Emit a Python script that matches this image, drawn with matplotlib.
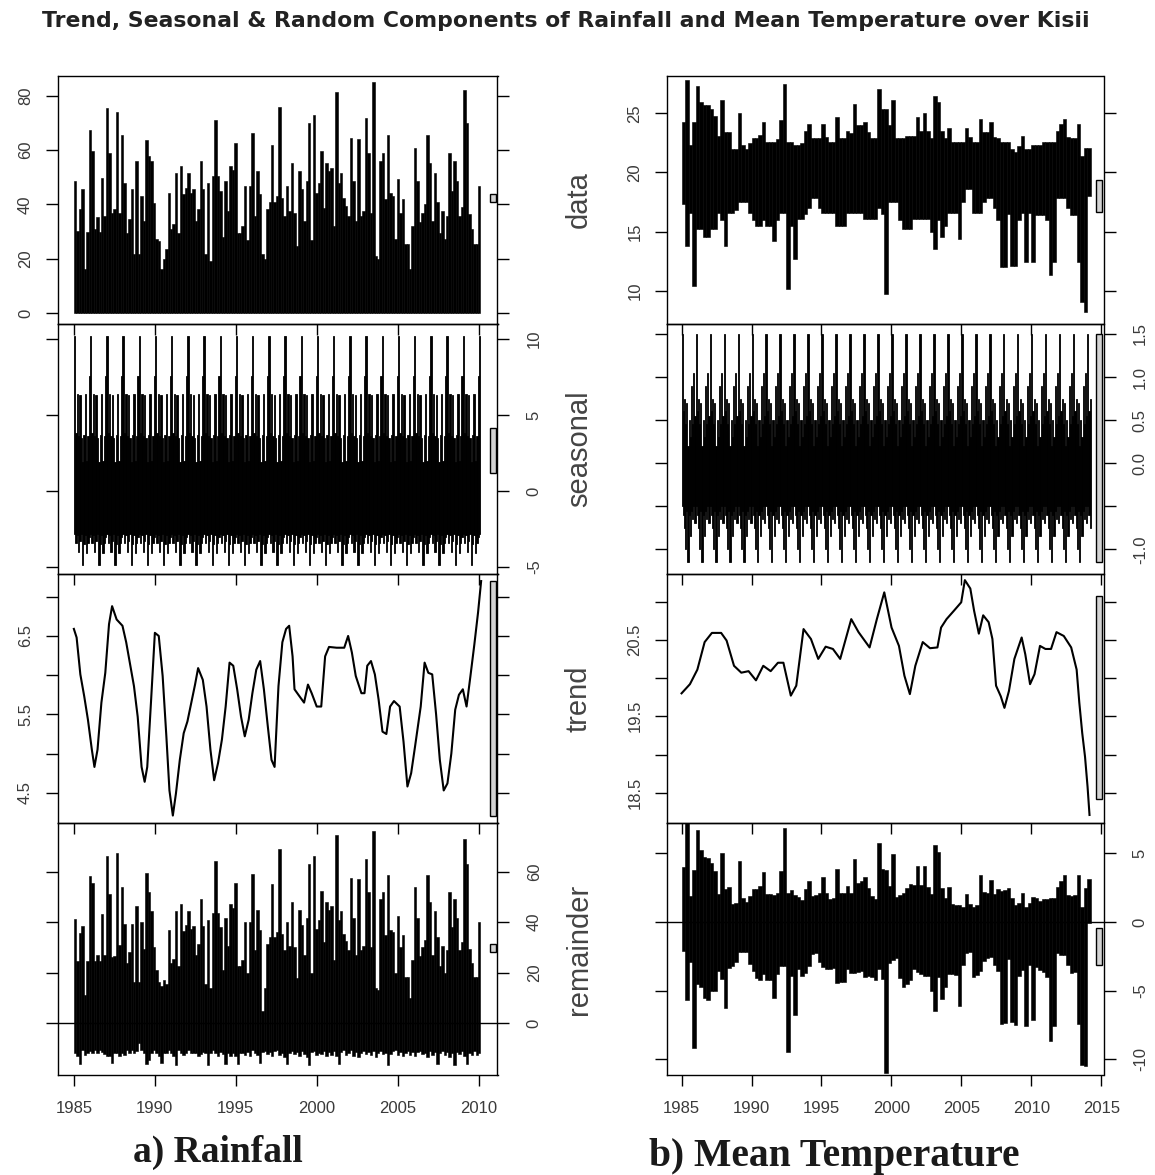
import numpy as np
import matplotlib
matplotlib.use("Agg")
import matplotlib.pyplot as plt
from matplotlib.patches import Rectangle
import matplotlib.transforms as mtrans

plt.rcParams["font.family"] = ["Liberation Sans", "DejaVu Sans"]

W, H, DPI = 1155, 1175, 100

# ---------------- a) Rainfall ----------------
rain_span = (1985.0, 2010.1)
rain_data = [48.6, 30.2, 38.5, 45.8, 16.2, 30.0, 67.4, 59.7, 31.0, 35.5,
             30.0, 49.6, 35.8, 75.6, 58.8, 37.0, 38.5, 73.8, 37.0, 65.4,
             47.8, 29.6, 34.6, 45.8, 21.7, 56.0, 21.7, 43.1, 33.9, 63.6,
             57.8, 56.0, 40.4, 27.4, 26.5, 16.2, 19.9, 23.5, 44.1, 31.0,
             32.7, 51.5, 29.6, 54.2, 43.8, 46.2, 51.5, 44.3, 45.8, 33.9,
             38.5, 56.0, 45.8, 21.7, 47.8, 19.2, 50.5, 71.0, 50.5, 45.0,
             27.9, 48.6, 37.6, 54.2, 52.7, 62.7, 29.6, 29.6, 32.1, 46.8,
             27.0, 46.8, 66.2, 35.8, 52.2, 43.8, 21.7, 19.9, 38.5, 40.9,
             61.8, 41.0,
             43.1, 75.8, 42.5, 35.8, 46.8, 37.6, 55.1, 37.0, 24.7, 52.2,
             45.8, 33.9, 48.6, 70.1, 27.0, 72.9, 44.3, 47.8, 59.7, 38.8,
             55.1, 52.2, 53.5, 32.1, 81.4, 48.0, 51.5, 42.5, 39.4, 35.8,
             64.6, 48.6, 33.9, 64.0, 35.8, 37.6, 71.9, 58.8, 37.0, 85.0,
             21.1, 19.9, 56.0, 58.8, 42.1, 65.4, 44.1, 43.1, 27.2, 49.5,
             37.0, 42.1, 25.4, 25.4, 16.2, 32.1, 60.9, 48.6, 33.4, 37.0,
             40.1, 65.4, 55.1, 33.9, 51.5, 41.0, 29.6, 37.6, 27.2, 35.9,
             58.8, 45.0, 56.0, 48.6, 35.8, 39.0, 82.1, 70.1, 36.4, 31.1,
             25.4, 25.4, 46.8]

# one year of the seasonal component (monthly highs / lows)
rain_seas_hi = [10.2, 3.8, 6.4, 3.6, 6.3, 3.5, 1.9, 3.7, 6.4, 2.0, 3.6, 7.6]
rain_seas_lo = [-2.8, -3.4, -2.9, -4.0, -3.3, -2.8, -4.9, -3.5, -2.9, -4.1, -3.4, -3.0]

rain_trend_yr = [1985.00, 1985.17, 1985.40, 1985.64, 1985.87, 1986.11, 1986.27, 1986.46, 1986.70, 1986.94,
                 1987.17, 1987.36, 1987.64, 1988.00, 1988.23, 1988.47, 1988.71, 1988.94, 1989.18, 1989.37,
                 1989.53, 1989.77, 1990.00, 1990.24, 1990.48, 1990.71, 1990.90, 1991.11, 1991.30, 1991.54,
                 1991.78, 1992.01, 1992.25, 1992.48, 1992.67, 1992.96, 1993.19, 1993.43, 1993.66, 1993.90,
                 1994.14, 1994.37, 1994.61, 1994.84, 1995.08, 1995.32, 1995.55, 1995.79, 1996.02, 1996.26,
                 1996.50, 1996.73, 1996.97, 1997.20, 1997.39, 1997.63, 1997.87, 1998.10, 1998.29, 1998.50,
                 1998.62, 1998.86, 1999.21, 1999.45, 1999.68, 1999.99, 2000.27, 2000.51, 2000.75, 2001.22,
                 2001.69, 2001.93, 2002.16, 2002.40, 2002.75, 2002.94, 2003.11, 2003.34, 2003.58, 2003.81,
                 2004.05, 2004.29, 2004.52, 2004.76, 2005.11, 2005.35, 2005.59, 2005.82, 2006.06, 2006.41,
                 2006.65, 2006.88, 2007.12, 2007.36, 2007.59, 2007.83, 2008.06, 2008.30, 2008.54, 2008.77,
                 2009.01, 2009.24, 2009.48, 2009.72, 2009.95, 2010.14]
rain_trend = [6.59, 6.48, 6.01, 5.73, 5.43, 5.05, 4.83, 5.05, 5.65, 6.03,
              6.65, 6.88, 6.71, 6.63, 6.42, 6.14, 5.86, 5.47, 4.83, 4.64,
              4.83, 5.69, 6.54, 6.50, 5.99, 5.22, 4.53, 4.21, 4.49, 4.92,
              5.26, 5.41, 5.65, 5.88, 6.09, 5.94, 5.60, 5.05, 4.66, 4.88,
              5.18, 5.60, 6.16, 6.12, 5.82, 5.47, 5.22, 5.43, 5.77, 6.07,
              6.18, 5.82, 5.35, 4.92, 4.83, 5.86, 6.42, 6.59, 6.63, 6.24,
              5.82, 5.75, 5.65, 5.88, 5.77, 5.60, 5.60, 6.24, 6.36, 6.35,
              6.35, 6.50, 6.29, 5.99, 5.77, 5.77, 6.12, 6.18, 6.01, 5.69,
              5.28, 5.25, 5.60, 5.67, 5.60, 5.15, 4.58, 4.75, 5.09, 5.60,
              6.16, 6.03, 6.01, 5.50, 4.92, 4.53, 4.62, 5.00, 5.56, 5.75,
              5.82, 5.60, 5.99, 6.39, 6.80, 7.20]

rain_rem_hi = [41.2, 24.5, 35.6, 38.3, 11.3, 24.5, 58.2, 55.3, 24.7, 27.1,
               24.5, 43.2, 27.1, 66.3, 51.1, 26.4, 26.7, 67.2, 31.0, 54.0,
               39.3, 23.8, 28.4, 39.3, 16.2, 46.2, 16.2, 40.1, 29.3, 59.3,
               52.1, 44.6, 30.1, 21.1, 16.2, 14.8, 17.0, 15.5, 37.0, 24.0,
               25.5, 44.5, 22.5, 47.0, 36.5, 39.0, 44.5, 37.5, 38.5, 27.0,
               31.5, 49.0, 38.5, 15.5, 41.0, 14.0, 43.5, 64.0, 43.5, 38.0,
               21.0, 41.5, 30.5, 47.0, 45.5, 55.5, 22.5, 22.5, 25.0, 40.0,
               20.0, 40.0, 59.0, 29.0, 45.0, 37.0, 5.0, 14.0, 31.5, 34.0,
               55.0, 34.0,
               36.0, 69.0, 35.5, 29.0, 40.0, 30.5, 48.0, 30.0, 18.0, 45.0,
               39.0, 27.0, 41.5, 63.0, 20.0, 66.0, 37.5, 41.0, 52.5, 32.0,
               48.0, 45.0, 46.5, 25.0, 74.5, 41.0, 44.5, 35.5, 32.5, 29.0,
               57.5, 41.5, 27.0, 57.0, 29.0, 30.5, 65.0, 52.0, 30.0, 76.0,
               14.0, 13.0, 49.0, 52.0, 35.0, 58.5, 37.0, 36.0, 20.0, 42.5,
               30.0, 35.0, 18.5, 18.5, 10.0, 25.0, 54.0, 41.5, 26.5, 30.0,
               33.0, 58.5, 48.0, 27.0, 44.5, 34.0, 22.5, 30.5, 20.0, 29.0,
               52.0, 38.0, 49.0, 41.5, 29.0, 32.0, 73.0, 63.0, 29.5, 24.0,
               18.5, 18.5, 40.0]
rain_rem_lo = [-11.7, -13.0, -16.0, -10.4, -12.4, -11.7, -10.9, -11.7, -10.4, -11.7,
               -10.4, -11.2, -12.0, -13.0, -13.0, -15.8, -11.7, -11.7, -13.0, -11.7,
               -12.4, -10.4, -11.7, -10.4, -11.7, -10.9, -7.8, -10.4, -11.7, -16.2,
               -14.3, -11.7, -10.4, -11.7, -13.0, -15.7, -11.7, -11.7, -10.4, -11.7,
               -13.0, -16.4, -10.4, -11.7, -12.4, -11.7, -10.4, -11.7, -11.7, -11.7,
               -13.0, -12.0, -11.2, -11.7, -16.3, -11.7, -10.4, -11.7, -13.0, -11.2,
               -12.2, -15.9, -11.7, -13.0, -11.7, -13.0, -16.0, -11.7, -11.7, -12.4,
               -11.2, -12.8, -10.6, -11.9, -12.6, -15.5, -11.4, -10.8, -12.2, -11.5,
               -12.9, -11.1, -10.7, -12.3, -11.8, -13.2, -16.1, -11.6, -10.9, -12.0,
               -11.3, -12.7, -11.0, -12.2, -13.4, -16.3, -11.2, -10.8, -12.5, -11.6,
               -12.1, -10.9, -13.0, -11.4, -12.3, -11.1, -12.8, -15.9, -11.5, -10.7,
               -12.4, -11.9, -10.6, -12.7, -11.3, -13.1, -11.8, -10.9, -12.2, -11.4,
               -12.6, -11.0, -13.3, -11.7, -10.8, -12.1, -11.6, -16.4, -12.0, -11.1,
               -10.7, -12.5, -11.3, -13.0, -11.8, -10.9, -12.4, -11.5, -12.9, -11.2,
               -10.8, -12.2, -11.7, -13.2, -11.0, -12.6, -11.4, -16.2, -11.9, -10.9,
               -12.3, -11.5, -13.1, -11.8, -16.5, -11.2, -12.0, -10.8, -12.7, -16.0,
               -11.6, -12.3, -11.0, -12.5, -11.9]

# ---------------- b) Mean Temperature (quarterly highs / lows) ----------------
temp_span = (1985.0, 2014.25)
temp_hi = [24.3, 27.8, 22.3, 24.3, 27.3, 26.0, 25.7, 25.7, 25.4, 24.8,
           23.1, 26.1, 23.4, 23.4, 22.0, 22.0, 25.0, 22.3, 22.0, 22.5,
           22.9, 22.9, 23.2, 24.3, 22.6, 22.6, 22.6, 22.8, 24.4, 27.5,
           22.6, 22.6, 22.3, 22.3, 22.5, 23.5, 24.1, 22.9, 22.9, 22.9,
           24.1, 23.0, 22.6, 22.6, 24.7, 22.9, 22.9, 23.5, 23.3, 25.8,
           24.0, 24.0, 24.3, 23.4, 22.9, 22.9, 27.1, 25.4, 25.4, 24.0,
           26.1, 22.9, 22.9, 22.9, 23.1, 23.1, 23.1, 24.7, 23.5, 25.0,
           23.5, 22.9, 26.5, 26.0, 23.5, 22.9, 23.8, 22.6, 22.6, 22.6,
           22.6, 23.8, 23.0, 22.6, 22.6, 24.5, 23.4, 23.4, 24.3, 23.0,
           22.9, 22.6, 22.6, 22.6, 22.0, 21.7, 22.2, 23.1, 22.0, 22.0,
           22.3, 22.3, 22.3, 22.6, 22.6, 22.6, 22.6, 23.5, 24.1, 24.5,
           23.0, 22.9, 22.9, 24.1, 21.4, 22.1, 22.1]
temp_lo = [17.3, 13.8, 16.6, 10.4, 15.2, 15.2, 14.5, 14.5, 15.2, 15.2,
           16.6, 16.0, 13.8, 16.6, 16.6, 16.8, 17.5, 17.5, 17.5, 16.6,
           16.0, 15.5, 15.5, 16.0, 15.5, 15.5, 14.2, 16.0, 16.6, 16.6,
           10.1, 15.5, 12.7, 16.1, 16.1, 16.5, 17.0, 17.8, 17.8, 17.0,
           16.6, 16.6, 16.6, 16.6, 15.5, 15.5, 15.5, 16.6, 16.6, 16.6,
           16.6, 16.6, 16.1, 16.1, 16.1, 16.1, 17.0, 16.5, 9.7, 17.5,
           17.5, 17.5, 16.0, 15.2, 15.2, 15.2, 16.1, 16.1, 16.1, 16.1,
           16.1, 15.0, 13.5, 16.0, 14.5, 15.5, 16.6, 16.6, 16.6, 14.4,
           17.5, 18.6, 18.6, 16.6, 16.6, 16.6, 17.5, 17.8, 17.8, 17.0,
           16.0, 12.0, 12.0, 16.5, 12.1, 12.1, 16.0, 16.6, 12.4, 16.6,
           12.4, 16.4, 16.4, 16.4, 16.0, 11.3, 12.4, 17.8, 17.8, 17.8,
           17.0, 16.4, 16.4, 12.4, 9.0, 8.2, 18.0]

temp_seas_hi = [1.5, 0.6, 0.75, 0.45, 0.7, 0.2, 0.5, 0.3, 0.9, 0.45, 1.05, 0.55]
temp_seas_lo = [-0.5, -0.6, -0.75, -1.0, -0.55, -1.15, -0.6, -0.85, -0.55, -0.65, -0.5, -0.7]

temp_trend_yr = [1985.00, 1985.60, 1986.13, 1986.65, 1987.17, 1987.83, 1988.22, 1988.75, 1989.27, 1989.79,
                 1990.32, 1990.84, 1991.37, 1991.89, 1992.28, 1992.81, 1993.20, 1993.72, 1994.25, 1994.77,
                 1995.30, 1995.82, 1996.34, 1997.13, 1997.65, 1998.44, 1998.96, 1999.49, 2000.01, 2000.54,
                 2000.93, 2001.32, 2001.71, 2002.24, 2002.76, 2003.29, 2003.55, 2003.94, 2004.47, 2004.99,
                 2005.25, 2005.64, 2005.91, 2006.25, 2006.56, 2006.95, 2007.22, 2007.48, 2007.82, 2008.08,
                 2008.40, 2008.79, 2009.31, 2009.57, 2009.91, 2010.23, 2010.62, 2011.01, 2011.41, 2011.80,
                 2012.32, 2012.85, 2013.24, 2013.43, 2013.64, 2013.84, 2014.02, 2014.16]
temp_trend = [19.80, 19.92, 20.11, 20.47, 20.59, 20.59, 20.49, 20.16, 20.07, 20.09,
              19.97, 20.16, 20.09, 20.20, 20.20, 19.77, 19.90, 20.64, 20.51, 20.25,
              20.41, 20.38, 20.25, 20.77, 20.60, 20.40, 20.77, 21.12, 20.66, 20.42,
              20.03, 19.79, 20.16, 20.47, 20.39, 20.40, 20.66, 20.77, 20.88, 20.99,
              21.28, 21.17, 20.88, 20.58, 20.82, 20.73, 20.51, 19.90, 19.76, 19.61,
              19.83, 20.25, 20.53, 20.31, 19.92, 20.05, 20.42, 20.38, 20.38, 20.60,
              20.55, 20.40, 20.11, 19.68, 19.28, 18.97, 18.58, 18.21]

temp_rem_hi = [4.0, 7.4, 1.9, 3.8, 6.7, 5.2, 4.75, 4.65, 4.3, 3.7,
               2.0, 5.05, 2.4, 2.55, 1.3, 1.35, 4.4, 1.73, 1.42, 1.91,
               2.4, 2.43, 2.6, 3.64, 2.0, 2.0, 1.95, 2.1, 3.7, 6.8,
               2.1, 2.3, 1.95, 1.85, 1.6, 2.38, 3.0, 1.88, 1.95, 2.1,
               3.3, 2.1, 1.7, 1.72, 3.85, 2.1, 2.1, 2.6, 2.1, 4.55,
               2.85, 2.95, 3.3, 2.5, 1.9, 1.65, 5.75, 3.85, 3.8, 2.6,
               4.94, 1.85, 1.95, 2.1, 2.5, 2.75, 2.7, 4.05, 2.7, 4.05,
               2.55, 2.0, 5.6, 5.1, 2.5, 1.75, 2.53, 1.3, 1.25, 1.2,
               1.1, 2.05, 1.3, 1.1, 1.25, 3.4, 2.15, 2.1, 3.05, 2.0,
               2.4, 2.25, 2.35, 2.48, 1.75, 1.2, 1.4, 2.1, 1.1, 1.4,
               1.85, 1.75, 1.5, 1.68, 1.7, 1.72, 1.72, 2.55, 3.0, 3.42,
               1.95, 1.9, 1.98, 3.4, 1.1, 2.5, 3.1]
temp_rem_lo = [-2.1, -5.65, -2.9, -9.2, -4.5, -4.7, -5.55, -5.65, -5.0, -5.0,
               -3.6, -4.15, -6.3, -3.35, -3.2, -2.95, -2.2, -2.17, -2.18, -3.09,
               -3.6, -4.07, -4.2, -3.76, -4.2, -4.2, -5.55, -3.8, -3.2, -3.2,
               -9.5, -3.9, -6.75, -3.45, -3.9, -3.72, -3.2, -2.32, -2.25, -2.9,
               -3.3, -3.4, -3.4, -3.38, -4.45, -4.4, -4.4, -3.4, -3.7, -3.75,
               -3.65, -3.55, -4.0, -3.9, -4.0, -4.25, -3.45, -4.15, -11.0, -3.0,
               -2.76, -2.65, -4.05, -4.7, -4.5, -4.25, -3.4, -3.65, -3.8, -3.95,
               -3.95, -5.0, -6.5, -4.0, -5.6, -4.75, -3.77, -3.8, -3.85, -6.1,
               -3.1, -2.25, -2.2, -4.0, -3.85, -3.6, -2.85, -2.6, -2.55, -3.1,
               -3.6, -7.45, -7.35, -2.72, -7.25, -7.5, -3.9, -3.5, -7.6, -3.1,
               -7.15, -3.25, -3.5, -3.62, -4.0, -8.68, -7.58, -2.25, -2.4, -2.38,
               -3.15, -3.7, -3.62, -7.4, -10.4, -10.5, -0.1]


def dense(ax, span, lo, hi, lw=0.4):
    lo = np.asarray(lo, float)
    hi = np.asarray(hi, float)
    edges = np.linspace(span[0], span[1], len(hi) + 1)
    ax.bar(edges[:-1], hi - lo, bottom=lo, width=np.diff(edges), align="edge",
           color="black", edgecolor="black", linewidth=lw)
    return lo.min(), hi.max()


def seasonal(ax, start, years, cyc_hi, cyc_lo):
    n = int(round(years * 12))
    reps = n // 12 + 1
    hi = np.tile(cyc_hi, reps)[:n]
    lo = np.tile(cyc_lo, reps)[:n]
    return dense(ax, (start, start + n / 12.0), lo, hi, lw=0.6)


def style(ax, xlim, ylim, yticks, ylabels, side, xticks, bottom):
    ax.set_facecolor("none")
    ax.set_xlim(xlim)
    ax.set_ylim(ylim)
    for s in ax.spines.values():
        s.set_linewidth(1.0)
    ax.set_yticks(yticks)
    ax.set_yticklabels(ylabels, rotation=90, va="center")
    ax.tick_params(axis="y", direction="out", length=8.6, width=1.0,
                   left=True, right=True,
                   labelleft=(side == "left"), labelright=(side == "right"),
                   labelsize=12, labelcolor="#3a3a3a",
                   pad=9 if side == "left" else 12.5)
    ax.set_xticks(xticks)
    ax.set_xticklabels([str(x) for x in xticks])
    ax.tick_params(axis="x", direction="out", length=8, width=1.0,
                   labelbottom=bottom, labelsize=12, labelcolor="#3a3a3a", pad=11)


def range_bar(ax, lo, hi, h):
    mid = (lo + hi) / 2.0
    tr = mtrans.blended_transform_factory(ax.transAxes, ax.transData)
    ax.add_patch(Rectangle((0.983, mid - h / 2.0), 0.013, h, transform=tr,
                           facecolor="#d3d3d3", edgecolor="black", linewidth=1.0,
                           clip_on=False, zorder=5))


fig = plt.figure(figsize=(W / DPI, H / DPI), dpi=DPI)
fig.patch.set_facecolor("white")

edges_px = [76, 324, 574, 823, 1075]


def panel_axes(x0, x1, i):
    top, bot = edges_px[i], edges_px[i + 1]
    return fig.add_axes([x0 / W, 1 - bot / H, (x1 - x0) / W, (bot - top) / H])


# ---- left block: rainfall ----
rx = (1983.99, 2011.15)
rxt = [1985, 1990, 1995, 2000, 2005, 2010]
axs_r = [panel_axes(57.5, 497.5, i) for i in range(4)]

rng_r = []
rng_r.append(dense(axs_r[0], rain_span, np.zeros(len(rain_data)), rain_data))
rng_r.append(seasonal(axs_r[1], 1985.0, 25.1, rain_seas_hi, rain_seas_lo))
axs_r[2].plot(rain_trend_yr, rain_trend, color="black", lw=1.5)
rng_r.append((min(rain_trend), max(rain_trend)))
axs_r[3].axhline(0, color="black", lw=1.0)
rng_r.append(dense(axs_r[3], rain_span, rain_rem_lo, rain_rem_hi))

style(axs_r[0], rx, (-3.9, 87.2), [0, 20, 40, 60, 80], ["0", "20", "40", "60", "80"], "left", rxt, False)
style(axs_r[1], rx, (-5.46, 10.99), [-5, 0, 5, 10], ["-5", "0", "5", "10"], "right", rxt, False)
style(axs_r[2], rx, (4.115, 7.29), [4.5, 5.0, 5.5, 6.0, 6.5, 7.0],
      ["4.5", "", "5.5", "", "6.5", ""], "left", rxt, False)
style(axs_r[3], rx, (-20.4, 79.2), [0, 20, 40, 60], ["0", "20", "40", "60"], "right", rxt, True)

h_r = min(b - a for a, b in rng_r)
for ax, (a, b) in zip(axs_r, rng_r):
    range_bar(ax, a, b, h_r)

# ---- right block: mean temperature ----
tx = (1983.96, 2015.16)
txt = [1985, 1990, 1995, 2000, 2005, 2010, 2015]
axs_t = [panel_axes(667, 1103.5, i) for i in range(4)]

rng_t = []
rng_t.append(dense(axs_t[0], temp_span, temp_lo, temp_hi))
rng_t.append(seasonal(axs_t[1], 1985.0, 29.25, temp_seas_hi, temp_seas_lo))
axs_t[2].plot(temp_trend_yr, temp_trend, color="black", lw=1.5)
rng_t.append((min(temp_trend), max(temp_trend)))
axs_t[3].axhline(0, color="black", lw=1.0)
rng_t.append(dense(axs_t[3], temp_span, temp_rem_lo, temp_rem_hi))

style(axs_t[0], tx, (7.18, 28.16), [10, 15, 20, 25], ["10", "15", "20", "25"], "left", txt, False)
style(axs_t[1], tx, (-1.287, 1.616), [-1.0, -0.5, 0.0, 0.5, 1.0, 1.5],
      ["-1.0", "", "0.0", "0.5", "1.0", "1.5"], "right", txt, False)
style(axs_t[2], tx, (18.105, 21.36), [18.5, 19.0, 19.5, 20.0, 20.5, 21.0],
      ["18.5", "", "19.5", "", "20.5", ""], "left", txt, False)
style(axs_t[3], tx, (-11.14, 7.2), [-10, -5, 0, 5], ["-10", "-5", "0", "5"], "right", txt, True)

h_t = min(b - a for a, b in rng_t)
for ax, (a, b) in zip(axs_t, rng_t):
    range_bar(ax, a, b, h_t)

# ---- panel names (shared, between the two blocks) ----
for name, i in zip(["data", "seasonal", "trend", "remainder"], range(4)):
    yc = (edges_px[i] + edges_px[i + 1]) / 2.0
    fig.text(579 / W, 1 - yc / H, name, rotation=90, ha="center", va="center",
             fontsize=21, color="#444444")

# ---- captions ----
fig.text(218 / W, 1 - 1162 / H, "a) Rainfall", ha="center", va="baseline",
         family="Liberation Serif", weight="bold", fontsize=27, color="#1a1a1a")
fig.text(834 / W, 1 - 1166 / H, "b) Mean Temperature", ha="center", va="baseline",
         family="Liberation Serif", weight="bold", fontsize=28.5, color="#1a1a1a")

title = fig.text(566 / W, 1 - 21 / H,
                 "Trend, Seasonal & Random Components of Rainfall and Mean Temperature over Kisii",
                 ha="center", va="center", family="DejaVu Sans", weight="bold",
                 fontsize=15, color="#222222")
fig.canvas.draw()
bw = title.get_window_extent().width
title.set_fontsize(15 * 1047.0 / bw)

fig.savefig("out.png", dpi=DPI)
